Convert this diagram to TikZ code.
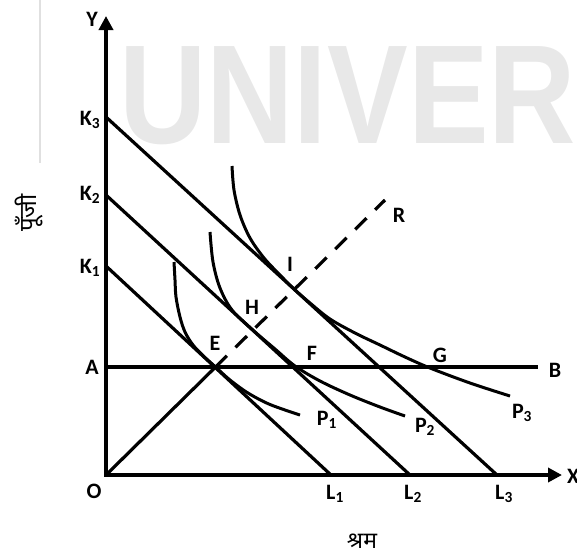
\documentclass[tikz,border=0pt]{standalone}
\usepackage{fontspec}
\setmainfont{Carlito}
\newfontfamily\deva[Script=Devanagari]{Noto Sans}
\newfontfamily\wmfont{Liberation Sans}
\usetikzlibrary{arrows.meta}
\begin{document}
\begin{tikzpicture}[x=1pt,y=-1pt,
  lab/.style={font=\fontsize{22}{24}\selectfont\bfseries, inner sep=0pt},
  axisline/.style={line width=4.2pt, line join=miter,
    {Triangle[length=14pt,width=14pt]}-{Triangle[length=14pt,width=14pt]}},
  budget/.style={line width=3.2pt},
  iso/.style={line width=3pt},
  ray/.style={line width=3.2pt},
  dashray/.style={line width=3.2pt, dash pattern=on 16pt off 12pt},
  faint/.style={line width=1.6pt, black!12}]
\useasboundingbox (0,0) rectangle (577,558);

% watermark
\node[anchor=base west, inner sep=0pt, text=black!9,
  font={\wmfont\bfseries\fontsize{121}{121}\selectfont}] (wm) at (119,143)
  {\scalebox{1}[1.165]{UNIVERS}};
\coordinate (f1) at (40,0);
\coordinate (f2) at (40,163);
\draw[faint] (f1) -- (f2);

% coordinates
\coordinate (O) at (106,475);
\coordinate (Ytip) at (106,16);
\coordinate (Xtip) at (562,475);
\coordinate (K3) at (106,117);
\coordinate (L3) at (497,475);
\coordinate (K2) at (106,195);
\coordinate (L2) at (410,475);
\coordinate (K1) at (106,266);
\coordinate (L1) at (331,475);
\coordinate (A) at (106,367);
\coordinate (B) at (538,367);
\coordinate (R) at (385,200);
\coordinate (E) at (intersection of O--R and A--B);

% axes
\draw[axisline] (Ytip) -- (O) -- (Xtip);

% budget lines
\draw[budget] (K1) -- (L1);
\draw[budget] (K2) -- (L2);
\draw[budget] (K3) -- (L3);
\draw[budget] (A) -- (B);

% expansion path
\draw[ray] (O) -- (E);
\draw[dashray] (E) -- (R);

% isoquants
\draw[iso] plot[smooth, tension=0.55] coordinates {(174,262) (175,280) (176,297) (180,317) (185,332) (193,345) (204,356.5) (215.6,367) (230,380) (248,393) (270,404.5) (300,415)};
\draw[iso] plot[smooth, tension=0.55] coordinates {(210,232) (213,262) (220,288) (232,310) (252.8,330) (275,349) (295,366) (320,381) (350,395) (380,407) (405,416)};
\draw[iso] plot[smooth, tension=0.55] coordinates {(232,166) (234,190) (240,215) (250,238) (264,258) (280,275) (294,289) (310,303) (330,319) (355,333) (380,345) (405,357) (430,368) (470,383) (510,396)};

% labels
\node[lab] (tY) at (92,19) {Y};
\node[lab, anchor=west] (tX) at (567,476) {X};
\node[lab] (tO) at (94,491) {O};
\node[lab] (tK3) at (90,120) {K\textsubscript{3}};
\node[lab] (tK2) at (90,195) {K\textsubscript{2}};
\node[lab] (tK1) at (90,268) {K\textsubscript{1}};
\node[lab] (tA) at (92,367) {A};
\node[lab] (tL1) at (335,494) {L\textsubscript{1}};
\node[lab] (tL2) at (413,494) {L\textsubscript{2}};
\node[lab] (tL3) at (504,494) {L\textsubscript{3}};
\node[lab] (tE) at (215,343) {E};
\node[lab] (tF) at (312,353) {F};
\node[lab] (tG) at (440,355) {G};
\node[lab] (tH) at (252,307) {H};
\node[lab] (tI) at (290,264) {I};
\node[lab] (tR) at (399,215) {R};
\node[lab] (tB) at (555,370) {B};
\node[lab] (tP1) at (327,420) {P\textsubscript{1}};
\node[lab] (tP2) at (425,427) {P\textsubscript{2}};
\node[lab] (tP3) at (522,413) {P\textsubscript{3}};

% axis titles
\node[font={\deva\fontsize{24}{26}\selectfont}, rotate=90, inner sep=0pt] (cap) at (29,213) {पूँजी};
\node[font={\deva\fontsize{23}{25}\selectfont}, inner sep=0pt] (lab) at (362,541) {श्रम};
\end{tikzpicture}
\end{document}
